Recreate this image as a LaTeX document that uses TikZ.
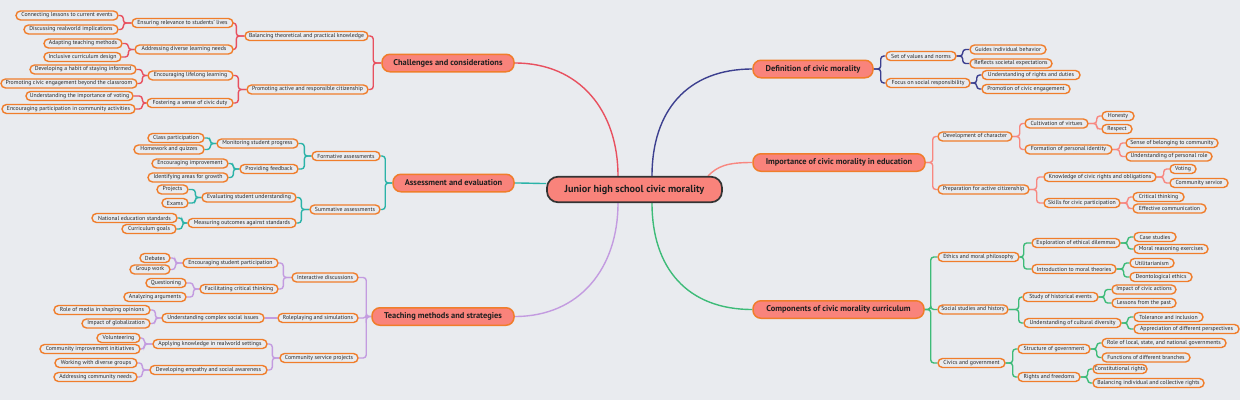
\documentclass[tikz,border=0pt]{standalone}
\usepackage{fontspec}
\setmainfont{PT Sans}
\usetikzlibrary{calc}
\definecolor{bgc}{HTML}{E9EBEF}
\definecolor{orng}{HTML}{F07D2B}
\definecolor{salm}{HTML}{F9837B}
\definecolor{rootb}{HTML}{333333}
\definecolor{txt}{HTML}{262626}
\definecolor{cred}{HTML}{E8505F}
\definecolor{cteal}{HTML}{2BB3A8}
\definecolor{cpurp}{HTML}{C39BE0}
\definecolor{cnavy}{HTML}{3C3F8F}
\definecolor{csalm}{HTML}{F88780}
\definecolor{cgreen}{HTML}{3DBB78}
\pgfdeclarelayer{back}
\pgfdeclarelayer{conn}
\pgfsetlayers{back,conn,main}
\tikzset{
  leaf/.style={draw=orng, line width=1.4pt, fill=bgc, rounded corners=4.5pt, minimum height=9pt, inner sep=0.5pt, font=\fontsize{5.8}{6}\selectfont, text=txt},
  topic/.style={draw=orng, line width=1.5pt, fill=salm, rounded corners=8pt, minimum height=17.5pt, inner sep=1pt, font=\fontsize{8.4}{9}\selectfont\bfseries, text=black!88},
  root/.style={draw=rootb, line width=1.7pt, fill=salm, rounded corners=11pt, minimum height=25.5pt, inner sep=1pt, font=\fontsize{10.2}{12}\selectfont\bfseries, text=black!88},
  link/.style={line width=1.4pt, rounded corners=3pt},
}
\newcommand\mapnode[6]{\node[#1,minimum width={#4-#3}] (#2) at ({(#3+#4)/2},#5) {#6};}
\newcommand\lconn[4]{\foreach \c in {#4} {\draw[link,#1] (#2.west) -- ++(-#3,0) |- (\c.east);}}
\newcommand\rconn[4]{\foreach \c in {#4} {\draw[link,#1] (#2.east) -- ++(#3,0) |- (\c.west);}}
\begin{document}
\begin{tikzpicture}[x=1pt,y=-1pt]
\begin{pgfonlayer}{back}
\fill[bgc] (0,0) rectangle (1240,400);
\end{pgfonlayer}
\useasboundingbox (0,0) rectangle (1240,400);
% root and topics
\mapnode{root}{root}{547}{722}{189.5}{Junior high school civic morality}
\mapnode{topic}{chal}{382}{514}{63}{Challenges and considerations}
\mapnode{topic}{assess}{393}{514}{183}{Assessment and evaluation}
\mapnode{topic}{teach}{372}{514}{316.5}{Teaching methods and strategies}
\mapnode{topic}{def}{753}{873}{69}{Definition of civic morality}
\mapnode{topic}{imp}{753}{925}{162.5}{Importance of civic morality in education}
\mapnode{topic}{comp}{753}{924}{309.5}{Components of civic morality curriculum}
% Challenges
\mapnode{leaf}{c1}{245}{368}{36}{Balancing theoretical and practical knowledge}
\mapnode{leaf}{c2}{247}{368}{89.5}{Promoting active and responsible citizenship}
\mapnode{leaf}{c11}{132}{233}{23}{Ensuring relevance to students' lives}
\mapnode{leaf}{c12}{135}{233}{49.5}{Addressing diverse learning needs}
\mapnode{leaf}{c111}{16}{118}{15.5}{Connecting lessons to current events}
\mapnode{leaf}{c112}{24}{118}{29.5}{Discussing realworld implications}
\mapnode{leaf}{c121}{44}{122}{43.5}{Adapting teaching methods}
\mapnode{leaf}{c122}{44}{121}{57}{Inclusive curriculum design}
\mapnode{leaf}{c21}{148}{233}{75.5}{Encouraging lifelong learning}
\mapnode{leaf}{c22}{147}{233}{103}{Fostering a sense of civic duty}
\mapnode{leaf}{c211}{30}{136}{69.5}{Developing a habit of staying informed}
\mapnode{leaf}{c212}{1}{137}{83.5}{Promoting civic engagement beyond the classroom}
\mapnode{leaf}{c221}{26}{133}{96}{Understanding the importance of voting}
\mapnode{leaf}{c222}{2}{135}{109}{Encouraging participation in community activities}
% Assessment
\mapnode{leaf}{a1}{312}{380}{156}{Formative assessments}
\mapnode{leaf}{a2}{310}{380}{209.5}{Summative assessments}
\mapnode{leaf}{a11}{217}{298}{143.5}{Monitoring student progress}
\mapnode{leaf}{a12}{240}{298}{169}{Providing feedback}
\mapnode{leaf}{a111}{148}{204}{138}{Class participation}
\mapnode{leaf}{a112}{134}{204}{149.5}{Homework and quizzes}
\mapnode{leaf}{a121}{152}{228}{163.5}{Encouraging improvement}
\mapnode{leaf}{a122}{148}{228}{177.5}{Identifying areas for growth}
\mapnode{leaf}{a21}{202}{296}{197.5}{Evaluating student understanding}
\mapnode{leaf}{a22}{188}{296}{223}{Measuring outcomes against standards}
\mapnode{leaf}{a211}{157}{188}{189.5}{Projects}
\mapnode{leaf}{a212}{162}{188}{203}{Exams}
\mapnode{leaf}{a221}{92}{177}{218}{National education standards}
\mapnode{leaf}{a222}{122}{176}{229}{Curriculum goals}
% Teaching
\mapnode{leaf}{t1}{292}{358}{277.5}{Interactive discussions}
\mapnode{leaf}{t2}{278}{358}{318}{Roleplaying and simulations}
\mapnode{leaf}{t3}{280}{358}{358}{Community service projects}
\mapnode{leaf}{t11}{183}{278}{263}{Encouraging student participation}
\mapnode{leaf}{t12}{200}{278}{289}{Facilitating critical thinking}
\mapnode{leaf}{t111}{140}{170}{258}{Debates}
\mapnode{leaf}{t112}{130}{170}{269.5}{Group work}
\mapnode{leaf}{t121}{146}{186}{283}{Questioning}
\mapnode{leaf}{t122}{124}{186}{297}{Analyzing arguments}
\mapnode{leaf}{t21}{162}{264}{318}{Understanding complex social issues}
\mapnode{leaf}{t211}{54}{150}{310}{Role of media in shaping opinions}
\mapnode{leaf}{t212}{82}{150}{323.5}{Impact of globalization}
\mapnode{leaf}{t31}{153}{267}{344}{Applying knowledge in realworld settings}
\mapnode{leaf}{t32}{150}{267}{370}{Developing empathy and social awareness}
\mapnode{leaf}{t311}{97}{140}{338}{Volunteering}
\mapnode{leaf}{t312}{40}{140}{349}{Community improvement initiatives}
\mapnode{leaf}{t321}{55}{137}{363}{Working with diverse groups}
\mapnode{leaf}{t322}{54}{137}{377}{Addressing community needs}
% Definition
\mapnode{leaf}{d1}{886}{956}{56}{Set of values and norms}
\mapnode{leaf}{d2}{886}{970}{83}{Focus on social responsibility}
\mapnode{leaf}{d11}{970}{1046}{49.5}{Guides individual behavior}
\mapnode{leaf}{d12}{970}{1052}{63.5}{Reflects societal expectations}
\mapnode{leaf}{d21}{982}{1080}{75}{Understanding of rights and duties}
\mapnode{leaf}{d22}{982}{1070}{89}{Promotion of civic engagement}
% Importance
\mapnode{leaf}{i1}{938}{1012}{136.5}{Development of character}
\mapnode{leaf}{i2}{938}{1029}{189.5}{Preparation for active citizenship}
\mapnode{leaf}{i11}{1025}{1088}{123.5}{Cultivation of virtues}
\mapnode{leaf}{i12}{1025}{1112}{149.5}{Formation of personal identity}
\mapnode{leaf}{i111}{1102}{1134}{116}{Honesty}
\mapnode{leaf}{i112}{1102}{1132}{129}{Respect}
\mapnode{leaf}{i121}{1126}{1218}{143}{Sense of belonging to community}
\mapnode{leaf}{i122}{1126}{1212}{156.5}{Understanding of personal role}
\mapnode{leaf}{i21}{1044}{1156}{177}{Knowledge of civic rights and obligations}
\mapnode{leaf}{i22}{1044}{1120}{203}{Skills for civic participation}
\mapnode{leaf}{i211}{1170}{1196}{169}{Voting}
\mapnode{leaf}{i212}{1170}{1228}{183}{Community service}
\mapnode{leaf}{i221}{1133}{1184}{197}{Critical thinking}
\mapnode{leaf}{i222}{1133}{1206}{208.5}{Effective communication}
% Components
\mapnode{leaf}{m1}{938}{1019}{257}{Ethics and moral philosophy}
\mapnode{leaf}{m2}{938}{1008}{309.5}{Social studies and history}
\mapnode{leaf}{m3}{938}{1005}{363}{Civics and government}
\mapnode{leaf}{m11}{1032}{1120}{243}{Exploration of ethical dilemmas}
\mapnode{leaf}{m12}{1032}{1116}{269}{Introduction to moral theories}
\mapnode{leaf}{m111}{1134}{1176}{237}{Case studies}
\mapnode{leaf}{m112}{1134}{1208}{249}{Moral reasoning exercises}
\mapnode{leaf}{m121}{1130}{1174}{263}{Utilitarianism}
\mapnode{leaf}{m122}{1130}{1192}{277}{Deontological ethics}
\mapnode{leaf}{m21}{1023}{1098}{297}{Study of historical events}
\mapnode{leaf}{m22}{1024}{1121}{323}{Understanding of cultural diversity}
\mapnode{leaf}{m211}{1112}{1176}{289.5}{Impact of civic actions}
\mapnode{leaf}{m212}{1112}{1176}{303}{Lessons from the past}
\mapnode{leaf}{m221}{1134}{1203}{317}{Tolerance and inclusion}
\mapnode{leaf}{m222}{1134}{1239}{329}{Appreciation of different perspectives}
\mapnode{leaf}{m31}{1018}{1090}{349}{Structure of government}
\mapnode{leaf}{m32}{1018}{1080}{377}{Rights and freedoms}
\mapnode{leaf}{m311}{1102}{1226}{343}{Role of local, state, and national governments}
\mapnode{leaf}{m312}{1102}{1190}{357.5}{Functions of different branches}
\mapnode{leaf}{m321}{1093}{1147}{369}{Constitutional rights}
\mapnode{leaf}{m322}{1093}{1204}{383}{Balancing individual and collective rights}
\begin{pgfonlayer}{conn}
% main curves
\draw[link,draw=cred] ([xshift=-16.5pt]root.north) .. controls +(0,-65) and +(65,0) .. (chal.east);
\draw[link,draw=cteal] (assess.east) .. controls +(14,0) and +(-12,0) .. ([yshift=6pt]root.west);
\draw[link,draw=cpurp] ([xshift=-16.5pt]root.south) .. controls +(0,65) and +(65,0) .. (teach.east);
\draw[link,draw=cnavy] ([xshift=17.5pt]root.north) .. controls +(0,-65) and +(-65,0) .. (def.west);
\draw[link,draw=csalm] ([xshift=73.5pt]root.north) .. controls +(10,-10) and +(-25,0) .. (imp.west);
\draw[link,draw=cgreen] ([xshift=17.5pt]root.south) .. controls +(0,65) and +(-65,0) .. (comp.west);
% Challenges
\lconn{draw=cred}{chal}{8}{c1,c2}
\lconn{draw=cred}{c1}{8}{c11,c12}
\lconn{draw=cred}{c11}{8}{c111,c112}
\lconn{draw=cred}{c12}{6}{c121,c122}
\lconn{draw=cred}{c2}{8}{c21,c22}
\lconn{draw=cred}{c21}{5}{c211,c212}
\lconn{draw=cred}{c22}{4}{c221,c222}
% Assessment
\lconn{draw=cteal}{assess}{7}{a1,a2}
\lconn{draw=cteal}{a1}{7}{a11,a12}
\lconn{draw=cteal}{a11}{6}{a111,a112}
\lconn{draw=cteal}{a12}{6}{a121,a122}
\lconn{draw=cteal}{a2}{8}{a21,a22}
\lconn{draw=cteal}{a21}{6}{a211,a212}
\lconn{draw=cteal}{a22}{5}{a221,a222}
% Teaching
\lconn{draw=cpurp}{teach}{5}{t1,t2,t3}
\lconn{draw=cpurp}{t1}{8}{t11,t12}
\lconn{draw=cpurp}{t11}{7}{t111,t112}
\lconn{draw=cpurp}{t12}{6}{t121,t122}
\draw[link,draw=cpurp] (t2.west) -- (t21.east);
\lconn{draw=cpurp}{t21}{6}{t211,t212}
\lconn{draw=cpurp}{t3}{7}{t31,t32}
\lconn{draw=cpurp}{t31}{8}{t311,t312}
\lconn{draw=cpurp}{t32}{7}{t321,t322}
% Definition
\rconn{draw=cnavy}{def}{7}{d1,d2}
\rconn{draw=cnavy}{d1}{6}{d11,d12}
\rconn{draw=cnavy}{d2}{6}{d21,d22}
% Importance
\rconn{draw=csalm}{imp}{7}{i1,i2}
\rconn{draw=csalm}{i1}{7}{i11,i12}
\rconn{draw=csalm}{i11}{8}{i111,i112}
\rconn{draw=csalm}{i12}{7}{i121,i122}
\rconn{draw=csalm}{i2}{7}{i21,i22}
\rconn{draw=csalm}{i21}{7}{i211,i212}
\rconn{draw=csalm}{i22}{7}{i221,i222}
% Components
\rconn{draw=cgreen}{comp}{6}{m1,m2,m3}
\rconn{draw=cgreen}{m1}{4}{m11,m12}
\rconn{draw=cgreen}{m11}{7}{m111,m112}
\rconn{draw=cgreen}{m12}{7}{m121,m122}
\rconn{draw=cgreen}{m2}{10}{m21,m22}
\rconn{draw=cgreen}{m21}{6}{m211,m212}
\rconn{draw=cgreen}{m22}{6}{m221,m222}
\rconn{draw=cgreen}{m3}{7}{m31,m32}
\rconn{draw=cgreen}{m31}{6}{m311,m312}
\rconn{draw=cgreen}{m32}{7}{m321,m322}
\end{pgfonlayer}
\end{tikzpicture}
\end{document}
